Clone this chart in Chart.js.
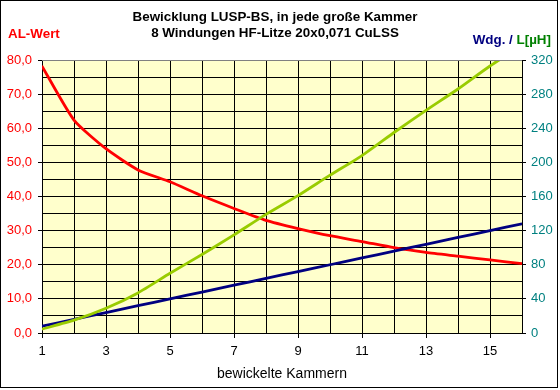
<!DOCTYPE html>
<html>
<head>
<meta charset="utf-8">
<script src="https://cdn.jsdelivr.net/npm/chart.js@4/dist/chart.umd.min.js"></script>
<style>
html,body{margin:0;padding:0;background:#fff;}
#wrap{width:560px;height:390px;position:relative;}
</style>
</head>
<body>
<div id="wrap"><canvas id="c" width="560" height="390"></canvas></div>
<script>
const categories = ['1','2','3','4','5','6','7','8','9','10','11','12','13','14','15','16'];
const alWert = [78.2, 62.4, 54.0, 47.8, 44.3, 40.2, 36.5, 33.0, 30.6, 28.5, 26.8, 25.0, 23.6, 22.5, 21.4, 20.3];
const windungen = [8, 16, 24, 32, 40, 48, 56, 64, 72, 80, 88, 96, 104, 112, 120, 128];
const induktivitaet = [4.5, 15, 29, 47, 70, 92, 115, 139, 161, 185, 208, 235, 261, 286, 313, 337];

const titleLines = ['Bewicklung LUSP-BS, in jede große Kammer', '8 Windungen HF-Litze 20x0,071 CuLSS'];
const leftTitle = 'AL-Wert';
const rightTitleA = 'Wdg. / ';
const rightTitleB = 'L[µH]';
const xTitle = 'bewickelte Kammern';

const FONT = '"Liberation Sans", Arial, sans-serif';

const decor = {
  id: 'decor',
  beforeDraw(chart) {
    const {ctx, chartArea: a} = chart;
    ctx.save();
    ctx.fillStyle = '#ffffff';
    ctx.fillRect(0, 0, chart.width, chart.height);
    ctx.fillStyle = '#FFFFCC';
    ctx.fillRect(a.left, a.top, a.right - a.left, a.bottom - a.top);
    ctx.restore();
  },
  afterDatasetsDraw(chart) {
    const {ctx, chartArea: a} = chart;
    ctx.save();
    ctx.fillStyle = '#808080';
    ctx.fillRect(a.left, Math.round(a.top), a.right - a.left, 1);
    ctx.restore();
  },
  afterDraw(chart) {
    const ctx = chart.ctx;
    ctx.save();
    ctx.textBaseline = 'middle';
    ctx.font = 'bold 13.4px ' + FONT;
    ctx.fillStyle = '#000';
    ctx.textAlign = 'center';
    ctx.fillText(titleLines[0], 275, 17);
    ctx.fillText(titleLines[1], 275, 33);
    ctx.textAlign = 'left';
    ctx.fillStyle = '#FF0000';
    ctx.fillText(leftTitle, 8, 34);
    ctx.textAlign = 'right';
    const wB = ctx.measureText(rightTitleB).width;
    ctx.fillStyle = '#008000';
    ctx.fillText(rightTitleB, 551, 40);
    ctx.fillStyle = '#000080';
    ctx.fillText(rightTitleA, 551 - wB, 40);
    ctx.strokeStyle = '#000';
    ctx.lineWidth = 1;
    ctx.strokeRect(0.5, 0.5, 557, 387);
    ctx.restore();
  }
};

new Chart(document.getElementById('c'), {
  type: 'line',
  data: {
    labels: categories,
    datasets: [
      {label: 'AL-Wert', data: alWert, yAxisID: 'y', borderColor: '#FF0000', pointBackgroundColor: '#FF0000', order: 2},
      {label: 'Wdg.', data: windungen, yAxisID: 'y2', borderColor: '#000080', pointBackgroundColor: '#000080', order: 1},
      {label: 'L[µH]', data: induktivitaet, yAxisID: 'y2', borderColor: '#99CC00', pointBackgroundColor: '#99CC00', order: 0}
    ]
  },
  plugins: [decor],
  options: {
    responsive: false,
    animation: false,
    layout: {padding: {top: 60, left: 0, right: 0, bottom: 0}},
    datasets: {line: {borderWidth: 2.8, pointRadius: 1, pointBorderWidth: 0, tension: 0.2, clip: 0, fill: false}},
    plugins: {legend: {display: false}, tooltip: {enabled: false}, title: {display: false}},
    scales: {
      x: {
        type: 'category',
        offset: false,
        afterFit(s) { s.height = 57; },
        grid: {
          color: '#000',
          tickLength: 5,
          tickColor: (c) => (c.index % 2 === 0 ? '#000' : 'rgba(0,0,0,0)')
        },
        border: {color: '#000'},
        ticks: {
          color: '#000', font: {family: FONT, size: 13}, padding: 6,
          autoSkip: false, maxRotation: 0,
          callback(v, i) { return i % 2 === 0 ? categories[i] : ''; }
        },
        title: {display: true, text: xTitle, color: '#000', font: {family: FONT, size: 14}, padding: {top: 0, bottom: 7}}
      },
      y: {
        position: 'left',
        min: 0, max: 80,
        afterFit(s) { s.width = 42; },
        grid: {
          color: '#000',
          tickLength: 4,
          tickColor: (c) => (c.tick && c.tick.value % 10 === 0 ? '#000' : 'rgba(0,0,0,0)')
        },
        border: {color: '#000'},
        ticks: {
          stepSize: 5, maxTicksLimit: 30, autoSkip: false,
          color: '#FF0000', font: {family: FONT, size: 13}, padding: 6,
          callback(v) { return v % 10 === 0 ? v.toFixed(1).replace('.', ',') : ''; }
        }
      },
      y2: {
        position: 'right',
        min: 0, max: 320,
        afterFit(s) { s.width = 38; },
        grid: {
          drawOnChartArea: false, tickLength: 4,
          tickColor: (c) => (c.tick && c.tick.value % 40 === 0 ? '#000' : 'rgba(0,0,0,0)')
        },
        border: {color: '#000'},
        ticks: {
          stepSize: 20, maxTicksLimit: 30, autoSkip: false,
          color: '#008080', font: {family: FONT, size: 13}, padding: 5,
          callback(v) { return v % 40 === 0 ? String(v) : ''; }
        }
      }
    }
  }
});
</script>
</body>
</html>
